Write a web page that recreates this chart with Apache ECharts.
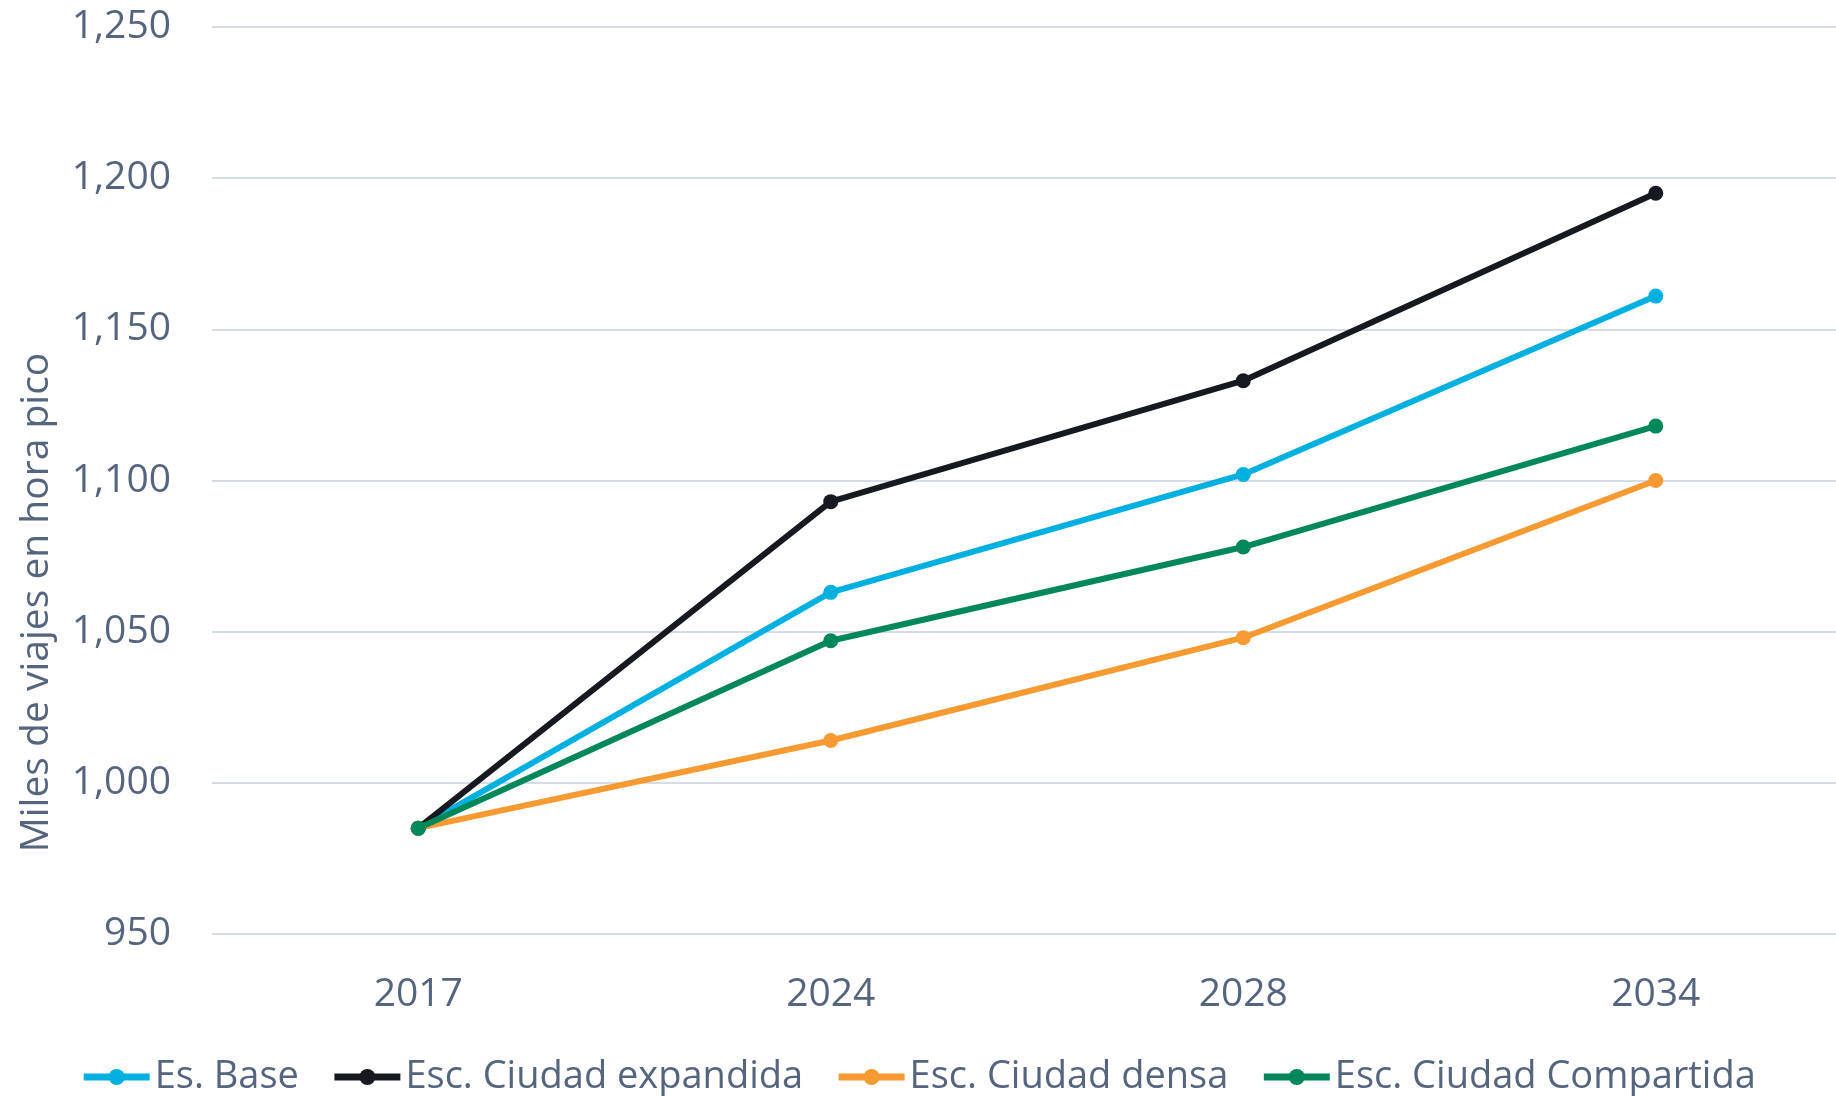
<!DOCTYPE html>
<html>
<head>
<meta charset="utf-8">
<script src="https://cdn.jsdelivr.net/npm/echarts@6/dist/echarts.min.js"></script>
<style>
  html, body { margin: 0; padding: 0; background: #fff; }
  #chart { width: 1836px; height: 1096px; }
</style>
</head>
<body>
<div id="chart"></div>
<script>
const years = ['2017', '2024', '2028', '2034']
const base = [985, 1063, 1102, 1161]
const expandida = [985, 1093, 1133, 1195]
const densa = [985, 1014, 1048, 1100]
const compartida = [985, 1047, 1078, 1118]

const textColor = '#56657e'
const font = 'Open Sans'

const chart = echarts.init(document.getElementById('chart'))

function line(name, data, color) {
  return {
    name, type: 'line', data,
    symbol: 'circle', symbolSize: 15,
    lineStyle: { width: 6, color },
    itemStyle: { color }
  }
}

chart.setOption({
  animation: false,
  grid: { left: 212, top: 27, width: 1650, bottom: 162, outerBoundsMode: 'none' },
  legend: {
    bottom: -5, left: 'center',
    itemWidth: 66, itemHeight: 20, itemGap: 32,
    lineStyle: { width: 7 },
    textStyle: { color: textColor, fontSize: 38, fontFamily: font },
    data: ['Es. Base', 'Esc. Ciudad expandida', 'Esc. Ciudad densa', 'Esc. Ciudad Compartida']
  },
  xAxis: {
    type: 'category', data: years,
    axisLine: { show: false }, axisTick: { show: false },
    axisLabel: { color: textColor, fontSize: 39, fontFamily: font, margin: 41 }
  },
  yAxis: {
    type: 'value', min: 950, max: 1250, interval: 50,
    name: 'Miles de viajes en hora pico',
    nameLocation: 'middle', nameRotate: 90, nameGap: 156,
    nameTextStyle: { color: textColor, fontSize: 39, fontFamily: font, padding: [0, 244, 0, 0] },
    axisLine: { show: false }, axisTick: { show: false },
    axisLabel: {
      color: textColor, fontSize: 39, fontFamily: font, margin: 41,
      formatter: v => v.toLocaleString('en-US')
    },
    splitLine: { lineStyle: { color: '#d6dce5', width: 2 } }
  },
  series: [
    line('Es. Base', base, '#00b0e0'),
    line('Esc. Ciudad expandida', expandida, '#161a20'),
    line('Esc. Ciudad densa', densa, '#f89a32'),
    line('Esc. Ciudad Compartida', compartida, '#00885a')
  ]
})
</script>
</body>
</html>
